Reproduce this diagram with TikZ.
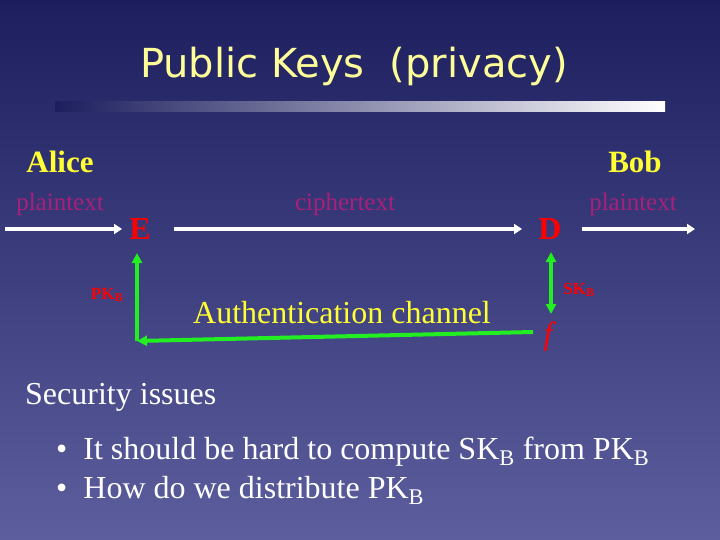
\documentclass[tikz,border=0pt]{standalone}
\usepackage{fontspec}
\setmainfont{Liberation Serif}
\newfontfamily\titlefont{DejaVu Sans}
\usetikzlibrary{arrows.meta}
\definecolor{bgtop}{HTML}{1C1E5E}
\definecolor{bgbot}{HTML}{5C5E9E}
\definecolor{ttl}{HTML}{FFFF99}
\definecolor{plum}{HTML}{A8207A}
\definecolor{yel}{HTML}{FFFF33}
\definecolor{grn}{HTML}{22EE22}
\begin{document}
\begin{tikzpicture}[x=1pt,y=-1pt,
  lbl/.style={inner sep=0pt,anchor=center},
  wa/.style={draw=white,line width=4pt,-{Triangle[length=8pt,width=10pt]}},
  ga/.style={draw=grn,line width=4pt,-{Triangle[length=10pt,width=10pt]}},
  plain/.style={lbl,text=plum,font=\fontsize{25}{25}\selectfont},
  who/.style={lbl,text=yel,font=\fontsize{31}{31}\selectfont\bfseries},
  op/.style={lbl,text=red,font=\fontsize{32}{32}\selectfont\bfseries},
  key/.style={lbl,text=red,font=\fontsize{17}{17}\selectfont\bfseries},
  big/.style={lbl,text=white,font=\fontsize{32}{32}\selectfont}]
\shade[top color=bgtop,bottom color=bgbot] (0,0) rectangle (720,540);
\useasboundingbox (0,0) rectangle (720,540);
\node[lbl,text=ttl,font=\titlefont\fontsize{40}{40}\selectfont] (title) at (354,66) {Public Keys\ \ (privacy)};
\shade[left color=bgtop,right color=white] (55,102) rectangle (665,112);
\node[who] (alice) at (60,162) {Alice};
\node[who] (bob) at (635,162) {Bob};
\node[plain] (p1) at (60,204) {plaintext};
\node[plain] (ct) at (345,204) {ciphertext};
\node[plain] (p2) at (633,204) {plaintext};
\node[op] (E) at (140,229) {E};
\node[op] (D) at (550,229) {D};
\node[lbl,text=red,font=\fontsize{32}{32}\selectfont\itshape] (f) at (548,337) {f};
\coordinate (in) at (5,229);
\coordinate (out) at (695,229);
\draw[wa] (in) -- (122,229);
\draw[wa] (174,229) -- (522,229);
\draw[wa] (582,229) -- (out);
\coordinate (corner) at (137,341);
\draw[ga] (533,332) -- (corner);
\draw[ga] (corner) -- (137,253);
\draw[draw=grn,line width=4pt,{Triangle[length=10pt,width=10pt]}-{Triangle[length=10pt,width=10pt]}] (551,252) -- (551,314);
\node[key] (pk) at (107,295) {PK\textsubscript{B}};
\node[key] (sk) at (579,290) {SK\textsubscript{B}};
\node[lbl,text=yel,font=\fontsize{32}{32}\selectfont] (auth) at (342,313) {Authentication channel};
\node[big,anchor=west] (sec) at (25,397) {Security issues};
\node[big,anchor=west] (b1) at (56,452) {\textbullet\ \ It should be hard to compute SK\textsubscript{B} from PK\textsubscript{B}};
\node[big,anchor=west] (b2) at (56,490) {\textbullet\ \ How do we distribute PK\textsubscript{B}};
\end{tikzpicture}
\end{document}
